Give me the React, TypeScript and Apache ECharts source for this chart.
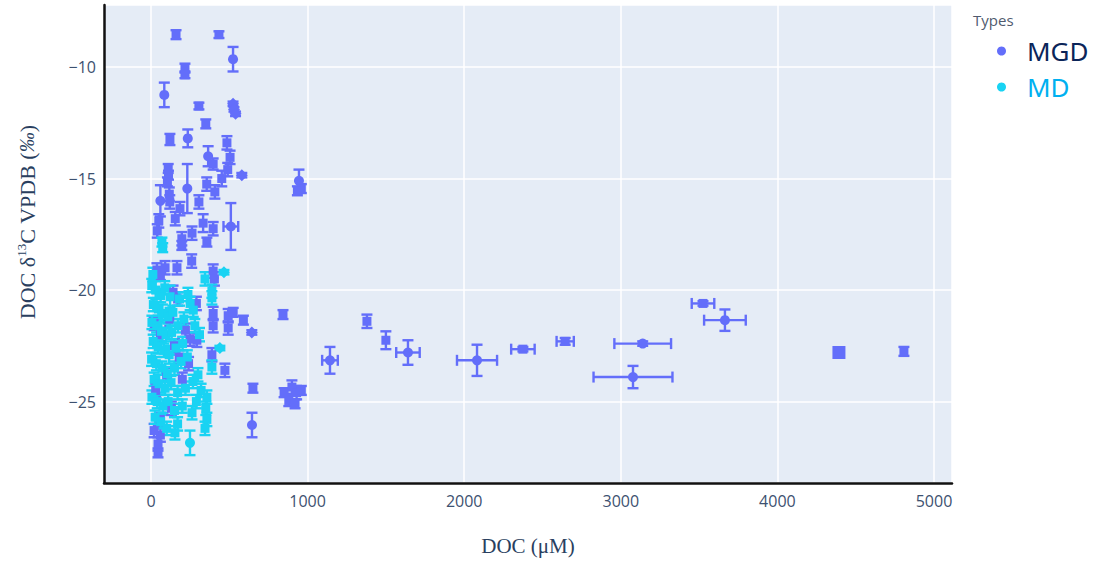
import React, { useEffect, useRef } from 'react';
import * as echarts from 'echarts';

// [DOC (µM), δ13C (‰), y error, x error, symbol]
type Pt = [number, number, number, number, string];

const mgdPoints: Pt[] = [
  [160, -8.55, 0.2, 0, 's'], [434, -8.55, 0.15, 0, 's'], [524, -9.65, 0.55, 0, 'c'],
  [217, -10.05, 0.2, 0, 's'], [217, -10.35, 0.15, 0, 's'], [85, -11.25, 0.55, 0, 'c'],
  [306, -11.75, 0.15, 0, 's'], [524, -11.65, 0.1, 0, 'd'], [530, -11.9, 0.1, 0, 'd'],
  [540, -12.1, 0.1, 0, 'd'], [350, -12.55, 0.2, 0, 's'], [121, -13.25, 0.25, 0, 's'],
  [235, -13.2, 0.4, 0, 'c'], [485, -13.4, 0.3, 0, 's'], [365, -14.0, 0.45, 0, 'c'],
  [505, -14.05, 0.3, 0, 's'], [397, -14.35, 0.25, 0, 's'], [110, -14.55, 0.2, 0, 's'],
  [112, -14.85, 0.2, 0, 's'], [105, -15.15, 0.2, 0, 's'], [580, -14.85, 0.1, 0, 'd'],
  [490, -14.6, 0.3, 0, 's'], [452, -15.0, 0.35, 0, 's'], [232, -15.45, 1.1, 0, 'c'],
  [60, -16.0, 0.7, 0, 'c'], [117, -15.7, 0.3, 0, 's'], [120, -16.05, 0.3, 0, 's'],
  [356, -15.25, 0.3, 0, 's'], [408, -15.6, 0.3, 0, 's'], [306, -16.05, 0.3, 0, 's'],
  [185, -16.35, 0.3, 0, 's'], [155, -16.8, 0.3, 0, 's'], [510, -17.15, 1.05, 47, 'c'],
  [397, -17.25, 0.3, 0, 's'], [333, -17.0, 0.4, 0, 's'], [262, -17.45, 0.3, 0, 's'],
  [197, -17.7, 0.3, 0, 's'], [50, -16.9, 0.3, 0, 's'], [40, -17.35, 0.3, 0, 's'],
  [945, -15.1, 0.5, 0, 'c'], [960, -15.45, 0.2, 0, 's'], [935, -15.55, 0.2, 0, 's'],
  [197, -18.0, 0.2, 0, 's'], [357, -17.85, 0.2, 0, 's'], [260, -18.7, 0.3, 0, 's'],
  [38, -19.1, 0.3, 0, 's'], [60, -19.35, 0.2, 0, 's'], [90, -19.0, 0.3, 0, 's'],
  [166, -19.0, 0.3, 0, 's'], [397, -19.15, 0.3, 0, 's'], [405, -19.5, 0.3, 0, 's'],
  [141, -20.1, 0.3, 0, 's'], [170, -20.4, 0.3, 0, 's'], [397, -21.05, 0.3, 0, 's'],
  [397, -21.6, 0.3, 0, 's'], [493, -21.15, 0.3, 0, 's'], [493, -21.7, 0.3, 0, 's'],
  [525, -21.0, 0.2, 0, 's'], [590, -21.35, 0.2, 0, 's'], [644, -21.9, 0.1, 0, 'd'],
  [843, -21.1, 0.2, 0, 's'], [293, -22.25, 0.3, 0, 's'], [389, -22.9, 0.3, 0, 's'],
  [472, -23.6, 0.3, 0, 's'], [651, -24.4, 0.2, 0, 's'], [850, -24.6, 0.2, 0, 's'],
  [900, -24.35, 0.3, 0, 's'], [930, -24.6, 0.3, 0, 's'], [960, -24.5, 0.2, 0, 's'],
  [880, -24.95, 0.25, 0, 's'], [920, -25.1, 0.2, 0, 's'], [645, -26.05, 0.55, 0, 'c'],
  [45, -26.9, 0.3, 0, 's'], [45, -27.3, 0.2, 0, 's'], [60, -26.5, 0.3, 0, 's'],
  [20, -21.5, 0.3, 0, 's'], [60, -22.0, 0.3, 0, 's'], [120, -21.3, 0.3, 0, 's'],
  [150, -22.5, 0.3, 0, 's'], [180, -23.0, 0.3, 0, 's'], [220, -21.8, 0.3, 0, 's'],
  [250, -22.2, 0.3, 0, 's'], [100, -23.8, 0.3, 0, 's'], [30, -24.5, 0.3, 0, 's'],
  [130, -25.3, 0.3, 0, 's'], [200, -24.0, 0.3, 0, 's'], [60, -25.8, 0.3, 0, 's'],
  [20, -26.3, 0.3, 0, 's'], [290, -20.6, 0.3, 0, 's'], [240, -23.3, 0.3, 0, 's'],
  [1143, -23.15, 0.6, 50, 'c'], [1379, -21.4, 0.3, 0, 's'], [1500, -22.25, 0.4, 0, 's'],
  [1641, -22.8, 0.55, 75, 'c'], [2082, -23.15, 0.7, 128, 'c'], [2375, -22.65, 0.1, 75, 's'],
  [2645, -22.3, 0.15, 55, 's'], [3140, -22.4, 0.1, 181, 'c'], [3078, -23.9, 0.5, 252, 'c'],
  [3525, -20.6, 0.1, 72, 's'], [3665, -21.35, 0.48, 133, 'c'], [4393, -22.8, 0, 0, 'S'],
  [4808, -22.75, 0.2, 0, 's'],
];

const mdPoints: Pt[] = [
  [70, -17.85, 0.2, 0, 's'], [75, -18.1, 0.2, 0, 's'], [466, -19.2, 0.1, 0, 'd'],
  [345, -19.5, 0.3, 0, 's'], [389, -20.05, 0.3, 0, 's'], [389, -20.35, 0.3, 0, 's'],
  [236, -20.2, 0.3, 0, 's'], [250, -20.6, 0.3, 0, 's'], [270, -20.9, 0.3, 0, 's'],
  [440, -22.6, 0.1, 0, 'd'], [389, -23.45, 0.3, 0, 's'], [357, -24.8, 0.3, 0, 's'],
  [350, -25.3, 0.3, 0, 's'], [357, -25.8, 0.3, 0, 's'], [345, -26.2, 0.3, 0, 's'],
  [249, -26.85, 0.55, 0, 'c'], [153, -26.4, 0.3, 0, 's'], [170, -26.0, 0.3, 0, 's'],
  [5, -19.8, 0.3, 0, 's'], [30, -20.0, 0.4, 0, 's'], [62, -20.25, 0.3, 0, 's'],
  [88, -19.9, 0.3, 0, 's'], [122, -20.3, 0.5, 0, 's'], [15, -20.65, 0.3, 0, 's'],
  [47, -20.85, 0.3, 0, 's'], [73, -21.05, 0.4, 0, 's'], [108, -21.2, 0.3, 0, 's'],
  [140, -21.0, 0.3, 0, 's'], [6, -21.45, 0.3, 0, 's'], [36, -21.6, 0.3, 0, 's'],
  [66, -21.85, 0.5, 0, 's'], [96, -22.0, 0.3, 0, 's'], [132, -21.9, 0.3, 0, 's'],
  [172, -21.6, 0.3, 0, 's'], [14, -22.3, 0.3, 0, 's'], [46, -22.55, 0.3, 0, 's'],
  [82, -22.7, 0.3, 0, 's'], [116, -22.9, 0.4, 0, 's'], [160, -22.6, 0.3, 0, 's'],
  [202, -22.4, 0.3, 0, 's'], [4, -23.1, 0.3, 0, 's'], [34, -23.3, 0.3, 0, 's'],
  [70, -23.5, 0.3, 0, 's'], [104, -23.75, 0.3, 0, 's'], [150, -23.5, 0.3, 0, 's'],
  [192, -23.2, 0.3, 0, 's'], [232, -23.0, 0.3, 0, 's'], [20, -24.0, 0.3, 0, 's'],
  [52, -24.2, 0.4, 0, 's'], [90, -24.4, 0.3, 0, 's'], [128, -24.15, 0.3, 0, 's'],
  [170, -24.6, 0.3, 0, 's'], [220, -24.4, 0.3, 0, 's'], [268, -24.1, 0.3, 0, 's'],
  [6, -24.8, 0.3, 0, 's'], [40, -25.0, 0.3, 0, 's'], [76, -25.2, 0.3, 0, 's'],
  [110, -25.0, 0.3, 0, 's'], [150, -25.4, 0.3, 0, 's'], [200, -25.2, 0.3, 0, 's'],
  [262, -25.5, 0.3, 0, 's'], [26, -25.7, 0.3, 0, 's'], [62, -25.9, 0.3, 0, 's'],
  [100, -26.2, 0.3, 0, 's'], [300, -23.8, 0.3, 0, 's'], [310, -22.0, 0.3, 0, 's'],
  [280, -21.6, 0.3, 0, 's'], [210, -21.3, 0.3, 0, 's'], [182, -20.4, 0.3, 0, 's'],
  [320, -24.5, 0.3, 0, 's'], [290, -25.0, 0.3, 0, 's'], [12, -19.3, 0.3, 0, 's'],
];

const legendTitle = 'Types';
const seriesNames = ['MGD', 'MD'];
const xTicks = [0, 1000, 2000, 3000, 4000, 5000];
const yTicks = [-25, -20, -15, -10];

const MGD_COLOR = '#636EFA';
const MD_COLOR = '#19D3F3';
const AXIS_TEXT = '#3d5170';

const SYM: Record<string, string> = { c: 'circle', s: 'rect', S: 'rect', d: 'diamond' };
const SIZE: Record<string, number> = { c: 10, s: 9, S: 13, d: 12 };

function errorSeries(name: string, pts: Pt[], color: string) {
  return {
    type: 'custom',
    name,
    silent: true,
    data: pts.map((p) => [p[0], p[1], p[2], p[3]]),
    encode: { x: 0, y: 1 },
    renderItem: (_params: any, api: any) => {
      const x = api.value(0);
      const y = api.value(1);
      const ye = api.value(2);
      const xe = api.value(3);
      const style = { stroke: color, lineWidth: 2.4 };
      const cap = 5.5;
      const children: any[] = [];
      if (ye > 0) {
        const t = api.coord([x, y + ye]);
        const b = api.coord([x, y - ye]);
        children.push({ type: 'line', shape: { x1: t[0], y1: t[1], x2: b[0], y2: b[1] }, style });
        children.push({ type: 'line', shape: { x1: t[0] - cap, y1: t[1], x2: t[0] + cap, y2: t[1] }, style });
        children.push({ type: 'line', shape: { x1: b[0] - cap, y1: b[1], x2: b[0] + cap, y2: b[1] }, style });
      }
      if (xe > 0) {
        const l = api.coord([x - xe, y]);
        const r = api.coord([x + xe, y]);
        children.push({ type: 'line', shape: { x1: l[0], y1: l[1], x2: r[0], y2: r[1] }, style });
        children.push({ type: 'line', shape: { x1: l[0], y1: l[1] - cap, x2: l[0], y2: l[1] + cap }, style });
        children.push({ type: 'line', shape: { x1: r[0], y1: r[1] - cap, x2: r[0], y2: r[1] + cap }, style });
      }
      return { type: 'group', children };
    },
  };
}

function scatterSeries(name: string, pts: Pt[], color: string) {
  return {
    type: 'scatter',
    name,
    itemStyle: { color, opacity: 1 },
    data: pts.map((p) => ({
      value: [p[0], p[1]],
      symbol: SYM[p[4]],
      symbolSize: SIZE[p[4]],
    })),
  };
}

export default function App() {
  const ref = useRef<HTMLDivElement>(null);

  useEffect(() => {
    if (!ref.current) return;
    const chart = echarts.init(ref.current, undefined, { renderer: 'svg' });
    chart.setOption({
      animation: false,
      backgroundColor: '#ffffff',
      grid: {
        left: 104,
        right: 144,
        top: 5,
        bottom: 78,
        show: true,
        backgroundColor: '#E5ECF6',
        borderWidth: 0,
      },
      xAxis: {
        type: 'value',
        min: -300,
        max: 5115,
        splitNumber: 5,
        axisLine: { show: true, onZero: false, lineStyle: { color: '#111', width: 2.5 } },
        axisTick: { show: false },
        splitLine: { show: true, lineStyle: { color: '#ffffff', width: 1.5 } },
        axisLabel: {
          color: AXIS_TEXT,
          fontSize: 16,
          fontFamily: 'Open Sans',
          margin: 10,
          formatter: (v: number) => (xTicks.includes(v) ? String(v) : ''),
        },
        name: 'DOC (μM)',
        nameLocation: 'middle',
        nameGap: 52,
        nameTextStyle: { fontFamily: 'Liberation Serif', fontSize: 21, color: '#2a3f5f' },
      },
      yAxis: {
        type: 'value',
        min: -28.65,
        max: -7.22,
        splitNumber: 4,
        axisLine: { show: true, onZero: false, lineStyle: { color: '#111', width: 2.5 } },
        axisTick: { show: false },
        splitLine: { show: true, lineStyle: { color: '#ffffff', width: 1.5 } },
        axisLabel: {
          color: AXIS_TEXT,
          fontSize: 16,
          fontFamily: 'Open Sans',
          margin: 8,
          formatter: (v: number) => (yTicks.includes(v) ? String(v).replace('-', '\u2212') : ''),
        },
      },
      legend: {
        orient: 'vertical',
        left: 992,
        top: 32,
        icon: 'circle',
        itemWidth: 9,
        itemHeight: 9,
        itemGap: 8,
        selectedMode: false,
        data: [
          { name: seriesNames[0], textStyle: { color: '#0B2559' } },
          { name: seriesNames[1], textStyle: { color: '#00B0F0' } },
        ],
        textStyle: { fontSize: 26, lineHeight: 28, fontFamily: 'Noto Sans', padding: [0, 0, 0, 16] },
      },
      graphic: [
        {
          type: 'text',
          left: 973,
          top: 12,
          style: { text: legendTitle, fontSize: 15, fontFamily: 'Open Sans', fill: '#505a6e' },
        },
        {
          type: 'text',
          x: 27,
          y: 222,
          rotation: Math.PI / 2,
          style: {
            text: '{t|DOC δ}{s|13}{t|C VPDB (}{i|‰}{t|)}',
            align: 'center',
            verticalAlign: 'middle',
            rich: {
              t: { fontFamily: 'Liberation Serif', fontSize: 22, fill: '#2a3f5f' },
              s: { fontFamily: 'Liberation Serif', fontSize: 13, fill: '#2a3f5f', padding: [0, 0, 12, 0] },
              i: { fontFamily: 'Liberation Serif', fontSize: 20, fontStyle: 'italic', fill: '#2a3f5f' },
            },
          },
        },
      ],
      series: [
        errorSeries('MGD err', mgdPoints, MGD_COLOR),
        scatterSeries(seriesNames[0], mgdPoints, MGD_COLOR),
        errorSeries('MD err', mdPoints, MD_COLOR),
        scatterSeries(seriesNames[1], mdPoints, MD_COLOR),
      ],
    });
    return () => chart.dispose();
  }, []);

  return <div ref={ref} style={{ width: 1096, height: 561, position: 'absolute', left: 0, top: 0 }} />;
}
